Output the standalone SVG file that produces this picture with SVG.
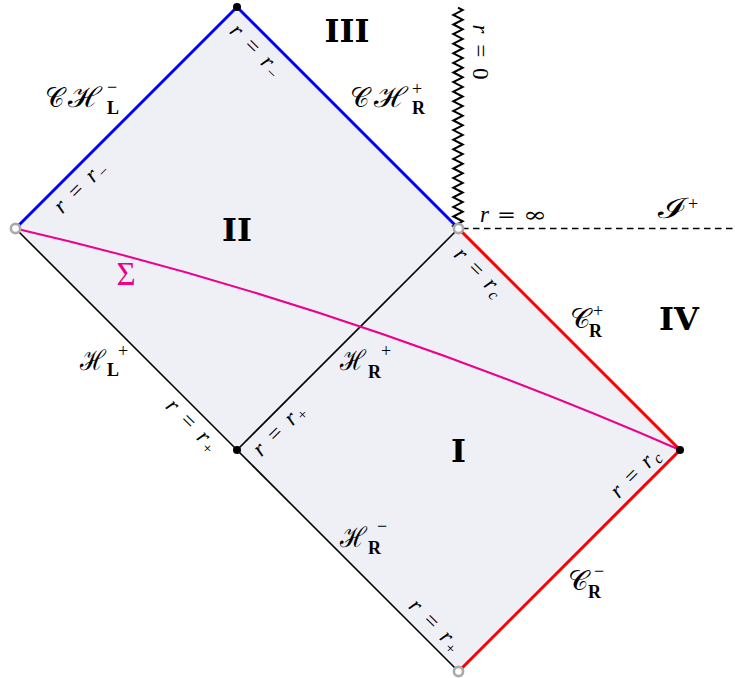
<svg xmlns="http://www.w3.org/2000/svg" width="735" height="678" viewBox="0 0 735 678">
<style>
.m{font-family:"Liberation Serif",serif;font-style:italic;font-size:23px;fill:#000}
.up{font-family:"Liberation Serif",serif;font-style:normal}
.eq{font-family:"DejaVu Serif",serif;font-style:normal;font-size:21px;fill:#000}
.sc{font-family:"DejaVu Serif",serif;font-style:normal;font-size:28px;fill:#000}
.bd{font-family:"Liberation Serif",serif;font-weight:bold;font-style:normal;font-size:18px;fill:#000}
.sp{font-family:"Liberation Serif",serif;font-style:normal;font-size:18px;fill:#000}
.rn{font-family:"DejaVu Serif",serif;font-weight:bold;font-size:32px;fill:#000;text-anchor:middle}
.sub{font-size:16px;font-style:normal}
.subi{font-size:16px}
.gray{fill:#fff;stroke:#aaa;stroke-width:2.6}
.blk{fill:#000}
</style>
<g id="region">
<polygon points="15.5,228.5 237,7 458.5,228.5 680,450 458.5,671.5 237,450" fill="#eff0f6"/>
</g>
<g id="connectors" fill="none" stroke-linejoin="miter">
<polyline points="15.5,228.5 237,7 458.5,228.5" stroke="#0000ff" stroke-width="3"/>
<polyline points="458.5,228.5 680,450 458.5,671.5" stroke="#ff0000" stroke-width="3"/>
<polyline points="15.5,228.5 237,450 458.5,671.5" stroke="#000" stroke-width="1.6"/>
<line x1="237" y1="450" x2="458.5" y2="228.5" stroke="#000" stroke-width="1.6"/>
<line x1="462" y1="228.5" x2="735" y2="228.5" stroke="#000" stroke-width="1.6" stroke-dasharray="6.5 4.5"/>
<path d="M458 228.5 l-4.7 -2.4 l9.4 -4.8 l-9.4 -4.8 l9.4 -4.8 l-9.4 -4.8 l9.4 -4.8 l-9.4 -4.8 l9.4 -4.8 l-9.4 -4.8 l9.4 -4.8 l-9.4 -4.8 l9.4 -4.8 l-9.4 -4.8 l9.4 -4.8 l-9.4 -4.8 l9.4 -4.8 l-9.4 -4.8 l9.4 -4.8 l-9.4 -4.8 l9.4 -4.8 l-9.4 -4.8 l9.4 -4.8 l-9.4 -4.8 l9.4 -4.8 l-9.4 -4.8 l9.4 -4.8 l-9.4 -4.8 l9.4 -4.8 l-9.4 -4.8 l9.4 -4.8 l-9.4 -4.8 l9.4 -4.8 l-9.4 -4.8 l9.4 -4.8 l-9.4 -4.8 l9.4 -4.8 l-9.4 -4.8 l9.4 -4.8 l-9.4 -4.8 l9.4 -4.8 l-9.4 -4.8 l9.4 -4.8 l-9.4 -4.8 l9.4 -4.8 l-9.4 -4.8 l9.4 -4.8 l-4.7 -2.4" stroke="#000" stroke-width="2"/>
<path d="M15.5 228.5 Q347 305 680 450" stroke="#ec008c" stroke-width="2"/>
</g>
<g id="vertices">
<circle id="v-top" class="blk" cx="237" cy="7" r="4"/>
<circle id="v-inner" class="blk" cx="237" cy="450" r="4"/>
<circle id="v-right" class="blk" cx="680" cy="450" r="4"/>
<circle id="v-left" class="gray" cx="15.5" cy="228.5" r="4.6"/>
<circle id="v-mid" class="gray" cx="458.5" cy="228.5" r="4.6"/>
<circle id="v-bottom" class="gray" cx="458.5" cy="671.5" r="4.6"/>
</g>
<g id="regions-labels">
<text id="reg-II" class="rn" x="237" y="241">II</text>
<text id="reg-III" class="rn" x="347" y="42">III</text>
<text id="reg-I" class="rn" x="458.5" y="462">I</text>
<text id="reg-IV" class="rn" x="679" y="330">IV</text>
</g>
<g id="labels">
<text class="m" transform="translate(256,50) rotate(45)" text-anchor="middle" y="7" textLength="64">r = r<tspan class="sub" dy="4">−</tspan></text>
<text class="m" transform="translate(80,187) rotate(-45)" text-anchor="middle" y="7" textLength="64">r = r<tspan class="sub" dy="4">−</tspan></text>
<text class="m" transform="translate(480,52) rotate(90)" text-anchor="middle" y="7" textLength="55">r = <tspan class="up">0</tspan></text>
<g id="lab-rinf"><text class="m" x="480" y="222">r</text><text class="eq" x="497" y="222" textLength="19" lengthAdjust="spacingAndGlyphs">=</text><text class="eq" x="523" y="222" textLength="24" lengthAdjust="spacingAndGlyphs">∞</text></g>
<text class="m" transform="translate(479,272) rotate(45)" text-anchor="middle" y="7" textLength="60">r = r<tspan class="subi" dy="4">c</tspan></text>
<text class="m" transform="translate(635,473) rotate(-45)" text-anchor="middle" y="7" textLength="60">r = r<tspan class="subi" dy="4">c</tspan></text>
<text class="m" transform="translate(192,425) rotate(45)" text-anchor="middle" y="7" textLength="64">r = r<tspan class="sub" dy="4">+</tspan></text>
<text class="m" transform="translate(279,430) rotate(-45)" text-anchor="middle" y="7" textLength="64">r = r<tspan class="sub" dy="4">+</tspan></text>
<text class="m" transform="translate(435,625) rotate(45)" text-anchor="middle" y="7" textLength="64">r = r<tspan class="sub" dy="4">+</tspan></text>
<g id="lab-CHLm"><text class="sc" x="45" y="107" textLength="19" lengthAdjust="spacingAndGlyphs">𝒞</text><text class="sc" x="68" y="107" textLength="34" lengthAdjust="spacingAndGlyphs">ℋ</text><text class="bd" x="107" y="114">L</text><text class="sp" x="107" y="93">−</text></g>
<g id="lab-CHRp"><text class="sc" x="350" y="107" textLength="19" lengthAdjust="spacingAndGlyphs">𝒞</text><text class="sc" x="374" y="107" textLength="34" lengthAdjust="spacingAndGlyphs">ℋ</text><text class="bd" x="412" y="114">R</text><text class="sp" x="412" y="95">+</text></g>
<g id="lab-CRp"><text class="sc" x="570" y="328" textLength="20" lengthAdjust="spacingAndGlyphs">𝒞</text><text class="bd" x="589" y="337">R</text><text class="sp" x="593" y="317">+</text></g>
<g id="lab-CRm"><text class="sc" x="568" y="590" textLength="20" lengthAdjust="spacingAndGlyphs">𝒞</text><text class="bd" x="588" y="598">R</text><text class="sp" x="594" y="577">−</text></g>
<g id="lab-HLp"><text class="sc" x="80" y="370" textLength="26" lengthAdjust="spacingAndGlyphs">ℋ</text><text class="bd" x="107" y="376">L</text><text class="sp" x="118" y="357">+</text></g>
<g id="lab-HRp"><text class="sc" x="340" y="370" textLength="26" lengthAdjust="spacingAndGlyphs">ℋ</text><text class="bd" x="368" y="378">R</text><text class="sp" x="381" y="357">+</text></g>
<g id="lab-HRm"><text class="sc" x="340" y="547" textLength="27" lengthAdjust="spacingAndGlyphs">ℋ</text><text class="bd" x="368" y="554">R</text><text class="sp" x="377" y="532">−</text></g>
<g id="lab-Iscri"><text class="sc" x="658" y="218" textLength="30" lengthAdjust="spacingAndGlyphs">ℐ</text><text class="sp" x="688" y="210">+</text></g>
<text id="lab-Sigma" x="126" y="285" text-anchor="middle" font-family="Liberation Serif, serif" font-size="33" fill="#ec008c">Σ</text>
</g>
</svg>
